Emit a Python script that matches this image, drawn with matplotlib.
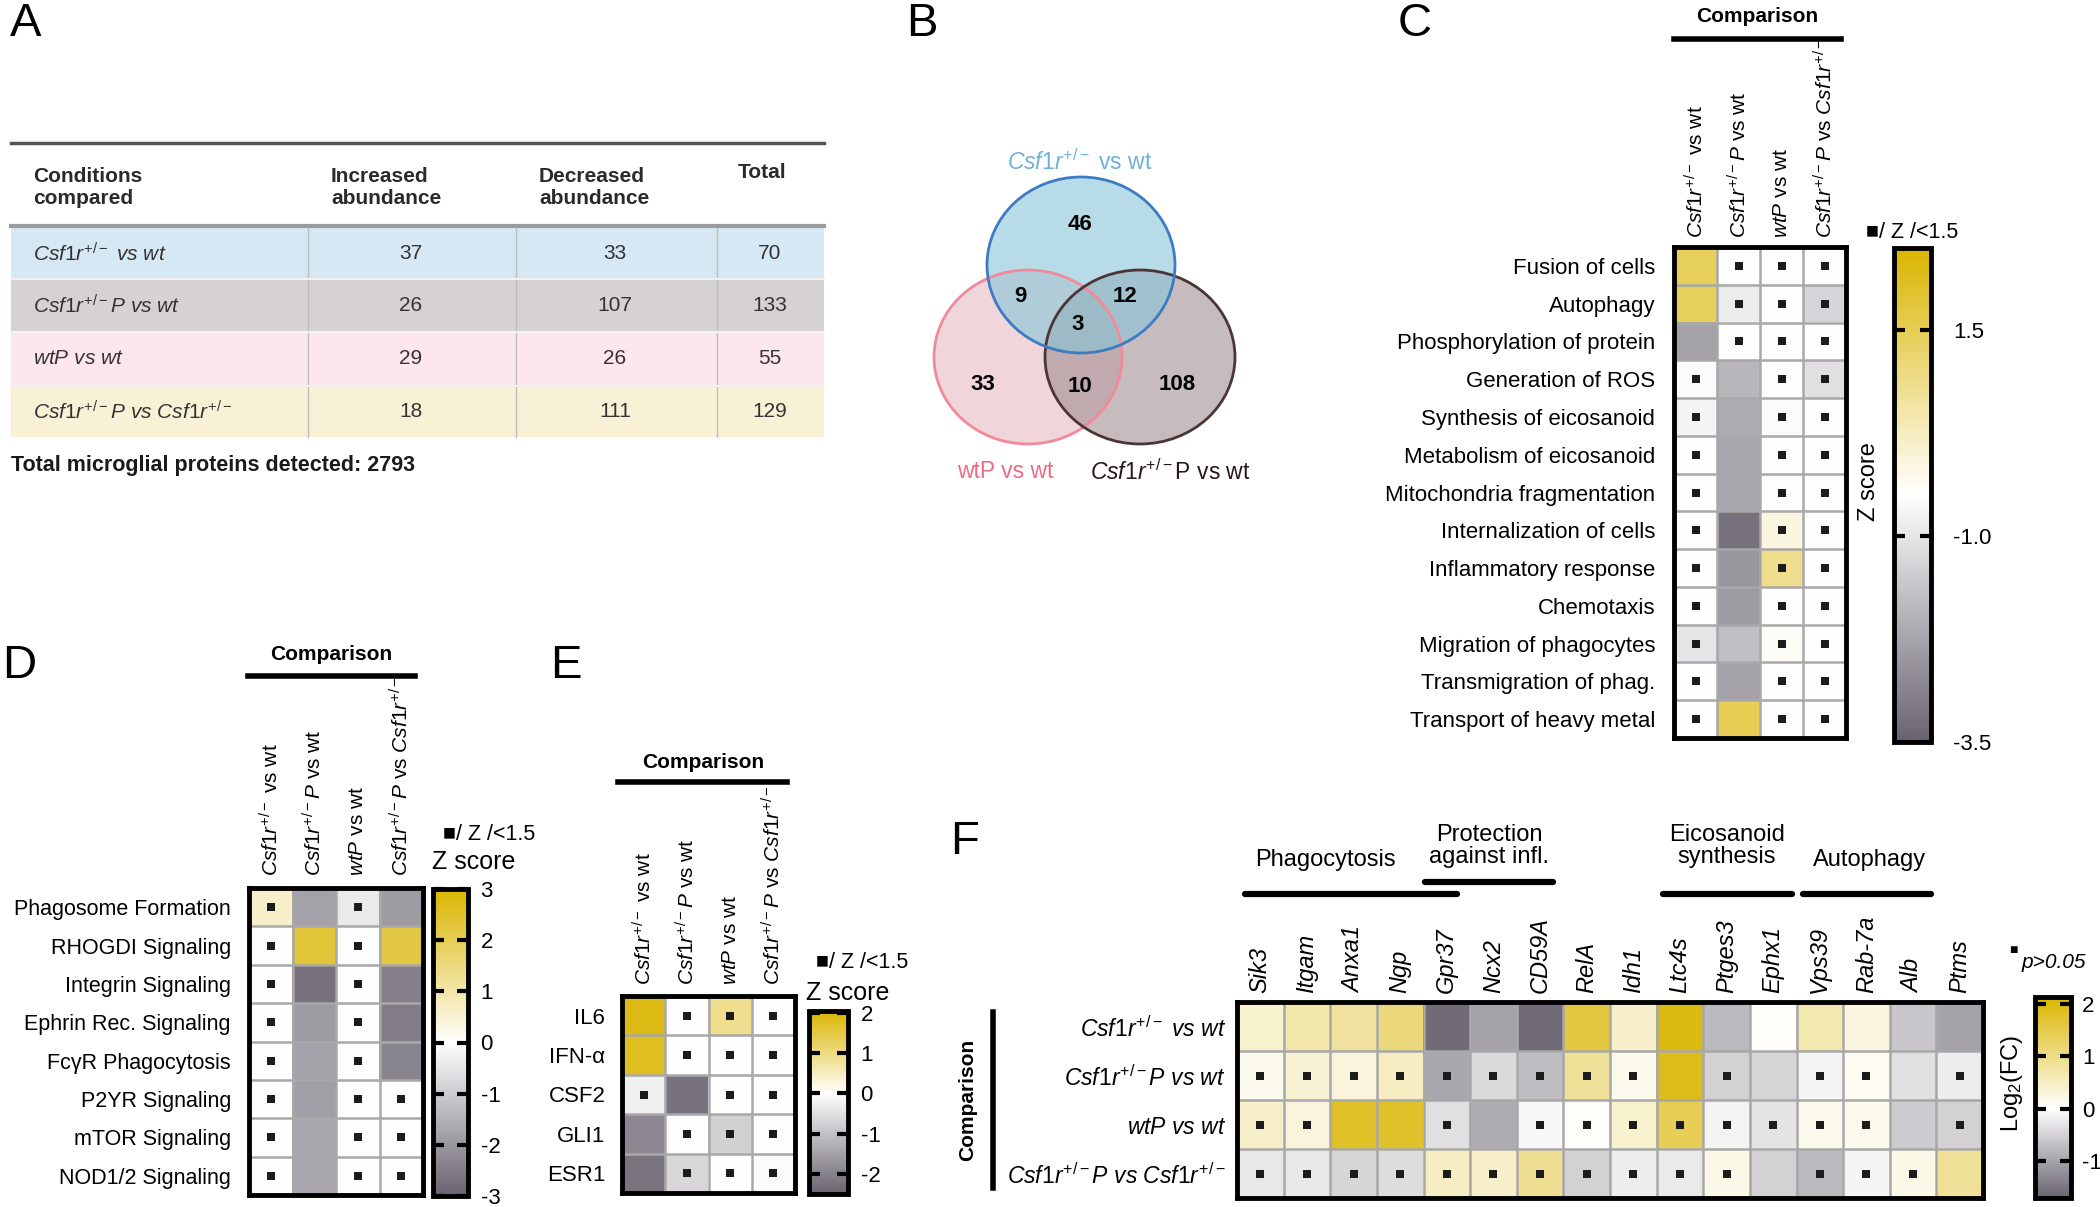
import matplotlib
matplotlib.use('Agg')
import matplotlib.pyplot as plt
from matplotlib.colors import LinearSegmentedColormap, Normalize
from matplotlib.patches import Rectangle, Ellipse
import numpy as np

plt.rcParams['font.family'] = ['Liberation Sans', 'DejaVu Sans']
plt.rcParams['mathtext.fontset'] = 'custom'
plt.rcParams['mathtext.rm'] = 'Liberation Sans'
plt.rcParams['mathtext.it'] = 'Liberation Sans:italic'
plt.rcParams['mathtext.bf'] = 'Liberation Sans:bold'
plt.rcParams['axes.unicode_minus'] = False

# ---------------- data ----------------
# panel A table
a_conditions = [r'$\mathit{Csf1r}^{+/-}\mathit{\ vs\ wt}$',
                r'$\mathit{Csf1r}^{+/-}\mathit{P\ vs\ wt}$',
                r'$\mathit{wtP\ vs\ wt}$',
                r'$\mathit{Csf1r}^{+/-}\mathit{P\ vs\ Csf1r}^{+/-}$']
a_increased = [37, 26, 29, 18]
a_decreased = [33, 107, 26, 111]
a_total = [70, 133, 55, 129]
a_row_colors = ['#d5e8f3', '#d6d1d2', '#fde7ed', '#f8f1d5']
total_detected = 2793

# panel B venn (blue only, blue&pink, blue&gray, all, pink only, pink&gray, gray only)
venn_values = [46, 9, 12, 3, 33, 10, 108]

# comparison labels used by C, D, E
comp_labels = [r'$\mathit{Csf1r}^{+/-}$ vs wt',
               r'$\mathit{Csf1r}^{+/-}\mathit{P}$ vs wt',
               r'$\mathit{wtP}$ vs wt',
               r'$\mathit{Csf1r}^{+/-}\mathit{P}$ vs $\mathit{Csf1r}^{+/-}$']

# panel C
c_rows = ['Fusion of cells', 'Autophagy', 'Phosphorylation of protein', 'Generation of ROS',
          'Synthesis of eicosanoid', 'Metabolism of eicosanoid', 'Mitochondria fragmentation',
          'Internalization of cells', 'Inflammatory response', 'Chemotaxis',
          'Migration of phagocytes', 'Transmigration of phag.', 'Transport of heavy metal']
c_z = [[1.4, -0.5, -0.5, -0.5],
       [1.4, -0.87, -0.5, -1.3],
       [-2.3, -0.5, -0.5, -0.5],
       [-0.55, -1.9, -0.5, -1.1],
       [-0.7, -2.1, -0.55, -0.5],
       [-0.5, -2.2, -0.5, -0.5],
       [-0.5, -2.2, -0.5, -0.5],
       [-0.5, -3.2, -0.15, -0.5],
       [-0.5, -2.5, 0.85, -0.5],
       [-0.5, -2.4, -0.5, -0.5],
       [-1.0, -1.7, -0.4, -0.5],
       [-0.5, -2.3, -0.5, -0.5],
       [-0.5, 1.5, -0.5, -0.5]]
c_ns = [[0, 1, 1, 1], [0, 1, 1, 1], [0, 1, 1, 1]] + [[1, 0, 1, 1]] * 10

# panel D
d_rows = ['Phagosome Formation', 'RHOGDI Signaling', 'Integrin Signaling', 'Ephrin Rec. Signaling',
          'FcγR Phagocytosis', 'P2YR Signaling', 'mTOR Signaling', 'NOD1/2 Signaling']
d_z = [[0.65, -1.8, -0.4, -1.9],
       [0, 2.3, 0, 2.2],
       [0, -2.7, 0, -2.45],
       [0, -1.9, 0, -2.5],
       [0, -1.8, 0, -2.35],
       [0, -1.85, 0, 0],
       [0, -1.7, 0, 0],
       [0, -1.7, 0, 0]]
d_ns = [[1, 0, 1, 0]] * 5 + [[1, 0, 1, 1]] * 3

# panel E
e_rows = ['IL6', 'IFN-α', 'CSF2', 'GLI1', 'ESR1']
e_z = [[1.88, 0, 0.9, 0],
       [1.78, 0, 0, 0],
       [-0.26, -2.25, 0, 0],
       [-1.9, 0, -0.75, 0],
       [-2.2, -0.64, 0, -0.05]]
e_ns = [[0, 1, 1, 1], [0, 1, 1, 1], [1, 0, 1, 1], [0, 1, 1, 1], [0, 1, 1, 1]]

# panel F
f_genes = ['Sik3', 'Itgam', 'Anxa1', 'Ngp', 'Gpr37', 'Ncx2', 'CD59A', 'RelA', 'Idh1',
           'Ltc4s', 'Ptges3', 'Ephx1', 'Vps39', 'Rab-7a', 'Alb', 'Ptms']
f_rows = [r'$\mathit{Csf1r}^{+/-}\mathit{\ vs\ wt}$',
          r'$\mathit{Csf1r}^{+/-}\mathit{P\ vs\ wt}$',
          r'$\mathit{wtP\ vs\ wt}$',
          r'$\mathit{Csf1r}^{+/-}\mathit{P\ vs\ Csf1r}^{+/-}$']
f_fc = [[0.4, 0.7, 0.8, 1.1, -1.6, -1.0, -1.6, 1.6, 0.45, 2.0, -0.75, 0.05, 0.65, 0.25, -0.6, -1.0],
        [0.15, 0.35, 0.3, 0.5, -0.95, -0.4, -0.7, 0.85, 0.15, 1.9, -0.5, -0.45, -0.1, 0.1, -0.35, -0.2],
        [0.45, 0.3, 1.8, 1.75, -0.35, -0.9, -0.08, 0.05, 0.4, 1.4, -0.12, -0.3, 0.15, 0.15, -0.55, -0.5],
        [-0.25, -0.25, -0.45, -0.38, 0.5, 0.45, 0.9, -0.5, -0.2, -0.22, 0.2, -0.5, -0.75, -0.1, 0.2, 0.85]]
f_ns = [[0] * 16,
        [1, 1, 1, 1, 1, 1, 1, 1, 1, 0, 1, 0, 1, 1, 0, 1],
        [1, 1, 0, 0, 1, 0, 1, 1, 1, 1, 1, 1, 1, 1, 0, 1],
        [1, 1, 1, 1, 1, 1, 1, 1, 1, 1, 1, 0, 1, 1, 1, 0]]
f_groups = ['Phagocytosis', 'Protection\nagainst infl.', 'Eicosanoid\nsynthesis', 'Autophagy']

# ---------------- figure ----------------
W, H = 2100, 1207
fig = plt.figure(figsize=(W / 100, H / 100), dpi=100)


def box(x0, y0, x1, y1):
    # pixel box, origin top-left -> figure fraction
    return [x0 / W, 1 - y1 / H, (x1 - x0) / W, (y1 - y0) / H]


def make_cmap(vmin, vmax, vwhite):
    f = (vwhite - vmin) / (vmax - vmin)
    return LinearSegmentedColormap.from_list(
        'zs', [(0, '#69636f'), (f, '#ffffff'), (1, '#dab500')])


def heatmap(rect, vals, ns, vmin, vmax, vwhite, rows, cols, rowsize, colsize,
            rowpad, colpad, rowstyle='normal', colstyle='normal'):
    ax = fig.add_axes(box(*rect))
    vals = np.array(vals, dtype=float)
    im = ax.imshow(vals, cmap=make_cmap(vmin, vmax, vwhite), norm=Normalize(vmin, vmax),
                   aspect='auto', interpolation='nearest')
    nr, nc = vals.shape
    for i in range(1, nr):
        ax.axhline(i - 0.5, color='#a8a8a8', lw=1.8)
    for j in range(1, nc):
        ax.axvline(j - 0.5, color='#a8a8a8', lw=1.8)
    rr, cc = np.nonzero(np.array(ns))
    ax.scatter(cc, rr, marker='s', s=36, color='#1c1c1c', lw=0, zorder=3)
    ax.set_xlim(-0.5, nc - 0.5)
    ax.set_ylim(nr - 0.5, -0.5)
    ax.set_yticks(range(nr))
    ax.set_yticklabels(rows, fontsize=rowsize, style=rowstyle)
    ax.xaxis.tick_top()
    ax.set_xticks(range(nc))
    ax.set_xticklabels(cols, rotation=90, fontsize=colsize, style=colstyle)
    ax.tick_params(axis='y', length=0, pad=rowpad)
    ax.tick_params(axis='x', length=0, pad=colpad)
    for s in ax.spines.values():
        s.set_linewidth(3.5)
    return im


def cbar(im, rect, ticks, labels, pad):
    cax = fig.add_axes(box(*rect))
    cb = fig.colorbar(im, cax=cax, ticks=ticks)
    cb.set_ticklabels(labels)
    cb.outline.set_linewidth(3.5)
    cax.tick_params(axis='y', direction='in', left=True, right=True, length=8, width=3,
                    labelsize=16, pad=pad)
    cax.minorticks_off()
    return cb


ax0 = fig.add_axes([0, 0, 1, 1])
ax0.set_xlim(0, W)
ax0.set_ylim(H, 0)
ax0.axis('off')

# panel letters
for lab, x, y in [('A', 10, 24), ('B', 906, 24), ('C', 1398, 24), ('D', 2, 666),
                  ('E', 550, 666), ('F', 950, 842)]:
    ax0.text(x, y, lab, fontsize=34, ha='left', va='center')

# ---------------- A: table ----------------
ax0.plot([11, 824], [143, 143], color='#555555', lw=2.5)
hdr = dict(fontsize=15, fontweight='bold', ha='left', color='#2a2a2a')
ax0.text(33, 187, 'Conditions\ncompared', va='center', **hdr)
ax0.text(331, 187, 'Increased\nabundance', va='center', **hdr)
ax0.text(539, 187, 'Decreased\nabundance', va='center', **hdr)
ax0.text(738, 173, 'Total', va='center', **hdr)
ax0.plot([11, 824], [226, 226], color='#9c9c9c', lw=3)
row_edges = [228, 279, 332, 386, 437]
for i in range(4):
    y0, y1 = row_edges[i], row_edges[i + 1]
    ax0.add_patch(Rectangle((11, y0), 813, y1 - y0, facecolor=a_row_colors[i], edgecolor='none'))
    yc = (y0 + y1) / 2
    ax0.text(33, yc, a_conditions[i], fontsize=15, va='center', ha='left', color='#333333')
    ax0.text(411, yc, str(a_increased[i]), fontsize=15, va='center', ha='center', color='#333333')
    ax0.text(615, yc, str(a_decreased[i]), fontsize=15, va='center', ha='center', color='#333333')
    ax0.text(770, yc, str(a_total[i]), fontsize=15, va='center', ha='center', color='#333333')
for x in [308, 516, 717]:
    ax0.plot([x, x], [228, 437], color='#bdbdbd', lw=1)
for y in row_edges[1:-1]:
    ax0.plot([11, 824], [y, y], color='#f2f2f2', lw=1.5)
ax0.text(11, 465, 'Total microglial proteins detected: %d' % total_detected,
         fontsize=15.5, fontweight='bold', va='center', ha='left', color='#1a1a1a')

# ---------------- B: venn ----------------
circles = [((1028, 357), 188, 174, '#e6b9c3', '#f28a9b'),
           ((1140, 357), 190, 174, '#a08e91', '#4c3538'),
           ((1081, 265), 188, 176, '#87c6d9', '#3d7cc4')]
for (cx, cy), w, h, fc, ec in circles:
    ax0.add_patch(Ellipse((cx, cy), w, h, facecolor=fc, edgecolor='none', alpha=0.6))
for (cx, cy), w, h, fc, ec in circles:
    ax0.add_patch(Ellipse((cx, cy), w, h, facecolor='none', edgecolor=ec, lw=2))
venn_pos = [(1080, 225), (1020, 297), (1125, 297), (1078, 325), (983, 385), (1080, 387), (1177, 385)]
for v, (x, y) in zip(venn_values, venn_pos):
    ax0.text(x, y, str(v), fontsize=16, fontweight='bold', ha='center', va='center')
ax0.text(1080, 162, r'$\mathit{Csf1r}^{+/-}$ vs wt', fontsize=16.5, color='#6fb0d8',
         ha='center', va='center')
ax0.text(1005, 472, 'wtP vs wt', fontsize=16.5, color='#ee6b84', ha='center', va='center')
ax0.text(1170, 472, r'$\mathit{Csf1r}^{+/-}$P vs wt', fontsize=16.5, color='#2b1517',
         ha='center', va='center')

# ---------------- C ----------------
im_c = heatmap((1674, 247, 1846, 738), c_z, c_ns, -3.5, 2.5, -0.5, c_rows, comp_labels,
               16, 15, 13.5, 6.5)
cbar(im_c, (1894, 248, 1931, 742), [1.5, -1.0, -3.5], ['1.5', '-1.0', '-3.5'], 16)
ax0.text(1757, 17, 'Comparison', fontsize=15, fontweight='bold', ha='center', va='center')
ax0.plot([1674, 1841], [39, 39], color='black', lw=4)
ax0.text(1866, 233, '■/ Z /<1.5', fontsize=15.5, ha='left', va='center')
ax0.text(1869, 482, 'Z score', fontsize=17, rotation=90, ha='center', va='center')

# ---------------- D ----------------
im_d = heatmap((249, 888, 423, 1195), d_z, d_ns, -3, 3, 0, d_rows, comp_labels,
               15.5, 15, 13, 8.5)
cbar(im_d, (433, 889, 468, 1196), [3, 2, 1, 0, -1, -2, -3],
     ['3', '2', '1', '0', '-1', '-2', '-3'], 9)
ax0.text(331, 654, 'Comparison', fontsize=15, fontweight='bold', ha='center', va='center')
ax0.plot([248, 415], [676, 676], color='black', lw=4)
ax0.text(489, 834, '■/ Z /<1.5', fontsize=15.5, ha='center', va='center')
ax0.text(474, 862, 'Z score', fontsize=18, ha='center', va='center')

# ---------------- E ----------------
im_e = heatmap((622, 996, 795, 1193), e_z, e_ns, -2.5, 2.05, 0, e_rows, comp_labels,
               16, 15, 12, 8)
cbar(im_e, (809, 1011, 848, 1194), [2, 1, 0, -1, -2], ['2', '1', '0', '-1', '-2'], 9)
ax0.text(703, 763, 'Comparison', fontsize=15, fontweight='bold', ha='center', va='center')
ax0.plot([618, 787], [782, 782], color='black', lw=4)
ax0.text(862, 963, '■/ Z /<1.5', fontsize=15.5, ha='center', va='center')
ax0.text(848, 993, 'Z score', fontsize=18, ha='center', va='center')

# ---------------- F ----------------
im_f = heatmap((1237, 1002, 1983, 1198), f_fc, f_ns, -1.7, 2.13, 0, f_rows, f_genes,
               16.5, 17, 8, 6.5, colstyle='italic')
cbar(im_f, (2035, 997, 2071, 1198), [2, 1, 0, -1], ['2', '1', '0', '-1'], 8)
group_text_pos = [(1325, 860), (1489, 846), (1727, 846), (1870, 860)]
group_bars = [(1245, 1457, 894), (1425, 1553, 882), (1663, 1792, 894), (1803, 1931, 894)]
for g, (x, y), (b0, b1, by) in zip(f_groups, group_text_pos, group_bars):
    ax0.text(x, y, g, fontsize=17, ha='center', va='center', linespacing=1.05)
    ax0.plot([b0, b1], [by, by], color='black', lw=4.5, solid_capstyle='round')
ax0.text(968, 1100, 'Comparison', fontsize=15, fontweight='bold', rotation=90,
         ha='center', va='center')
ax0.plot([993, 993], [1012, 1188], color='black', lw=4)
ax0.text(2012, 1083, r'Log$_2$(FC)', fontsize=17, rotation=90, ha='center', va='center')
ax0.text(2013, 950, '■', fontsize=10, ha='center', va='center')
ax0.text(2022, 962, 'p>0.05', fontsize=15, style='italic', ha='left', va='center')

fig.savefig('out.png', dpi=100)
